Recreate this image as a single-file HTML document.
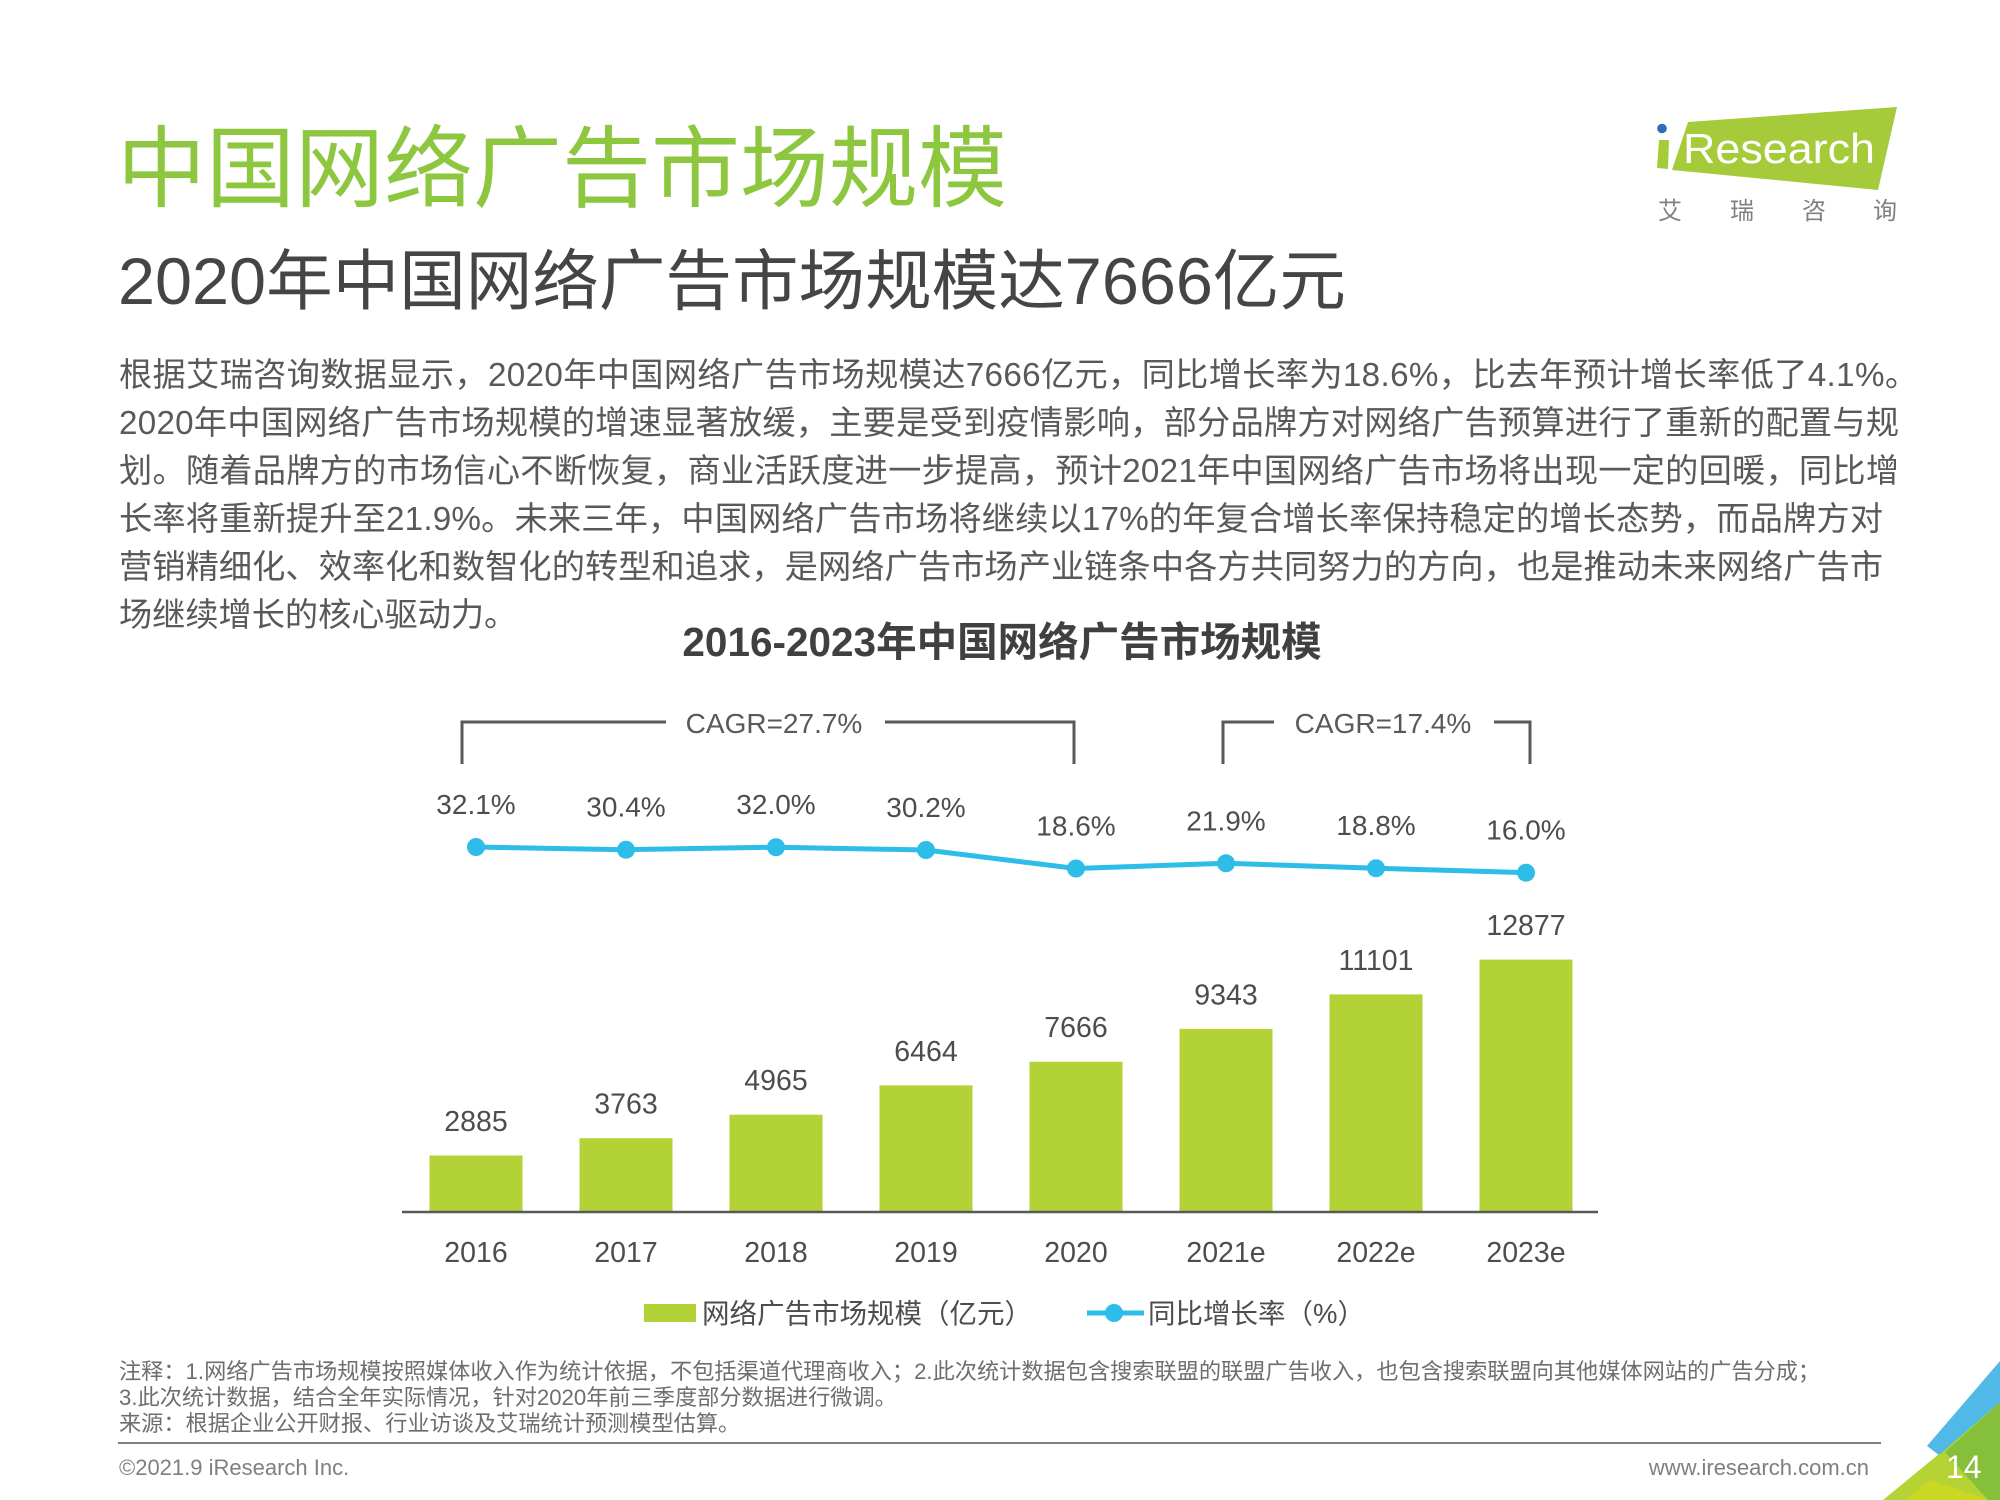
<!DOCTYPE html>
<html>
<head>
<meta charset="utf-8">
<style>
html,body{margin:0;padding:0;background:#fff;}
svg{display:block;}
text{font-family:"Liberation Sans","Noto Sans CJK SC",sans-serif;}
</style>
</head>
<body>
<svg width="2000" height="1500" viewBox="0 0 2000 1500" xmlns="http://www.w3.org/2000/svg">
<rect width="2000" height="1500" fill="#ffffff"/>

<!-- Title -->
<text x="117" y="200" font-size="89" fill="#8dc63f">中国网络广告市场规模</text>
<text x="118" y="304" font-size="66" fill="#454545" textLength="1228" lengthAdjust="spacingAndGlyphs">2020年中国网络广告市场规模达7666亿元</text>

<!-- Logo -->
<polygon points="1688,122 1897,107 1878,190 1672,170" fill="#a6cb3a"/>
<polygon points="1659,140 1669,140 1668,169 1657,168" fill="#a6cb3a"/>
<circle cx="1662" cy="128.5" r="4.8" fill="#2f6db5"/>
<text x="1683" y="163" font-size="42" fill="#ffffff" textLength="192" lengthAdjust="spacingAndGlyphs">Research</text>
<g font-size="24" fill="#808080">
<text x="1658" y="219">艾</text>
<text x="1730" y="219">瑞</text>
<text x="1802" y="219">咨</text>
<text x="1873" y="219">询</text>
</g>

<!-- Paragraph -->
<g font-size="33.2" fill="#595959">
<text x="119" y="386" textLength="1799" lengthAdjust="spacing">根据艾瑞咨询数据显示，2020年中国网络广告市场规模达7666亿元，同比增长率为18.6%，比去年预计增长率低了4.1%。</text>
<text x="119" y="434" textLength="1780" lengthAdjust="spacing">2020年中国网络广告市场规模的增速显著放缓，主要是受到疫情影响，部分品牌方对网络广告预算进行了重新的配置与规</text>
<text x="119" y="482" textLength="1780" lengthAdjust="spacing">划。随着品牌方的市场信心不断恢复，商业活跃度进一步提高，预计2021年中国网络广告市场将出现一定的回暖，同比增</text>
<text x="119" y="530" textLength="1764" lengthAdjust="spacing">长率将重新提升至21.9%。未来三年，中国网络广告市场将继续以17%的年复合增长率保持稳定的增长态势，而品牌方对</text>
<text x="119" y="578" textLength="1764" lengthAdjust="spacing">营销精细化、效率化和数智化的转型和追求，是网络广告市场产业链条中各方共同努力的方向，也是推动未来网络广告市</text>
<text x="119" y="626">场继续增长的核心驱动力。</text>
</g>

<!-- Chart title -->
<text x="1002" y="656" font-size="40.5" font-weight="bold" fill="#404040" text-anchor="middle">2016-2023年中国网络广告市场规模</text>

<!-- CAGR brackets -->
<g stroke="#595959" stroke-width="3" fill="none">
<path d="M462,764 V722 H666"/>
<path d="M885,722 H1074 V764"/>
<path d="M1223,764 V722 H1274"/>
<path d="M1494,722 H1530 V764"/>
</g>
<g font-size="28" fill="#595959" text-anchor="middle">
<text x="774" y="733">CAGR=27.7%</text>
<text x="1383" y="733">CAGR=17.4%</text>
</g>

<!-- Bars -->
<g fill="#b3d235">
<rect x="429.5" y="1155.5" width="93" height="56.5"/>
<rect x="579.5" y="1138.2" width="93" height="73.8"/>
<rect x="729.5" y="1114.7" width="93" height="97.3"/>
<rect x="879.5" y="1085.3" width="93" height="126.7"/>
<rect x="1029.5" y="1061.7" width="93" height="150.3"/>
<rect x="1179.5" y="1028.9" width="93" height="183.1"/>
<rect x="1329.5" y="994.4" width="93" height="217.6"/>
<rect x="1479.5" y="959.6" width="93" height="252.4"/>
</g>
<line x1="402" y1="1212" x2="1598" y2="1212" stroke="#595959" stroke-width="2.5"/>

<!-- Bar value labels -->
<g font-size="28.5" fill="#4d4d4d" text-anchor="middle">
<text x="476" y="1131">2885</text>
<text x="626" y="1113.7">3763</text>
<text x="776" y="1090.2">4965</text>
<text x="926" y="1060.8">6464</text>
<text x="1076" y="1037.2">7666</text>
<text x="1226" y="1004.4">9343</text>
<text x="1376" y="969.9">11101</text>
<text x="1526" y="935.1">12877</text>
</g>

<!-- Year labels -->
<g font-size="28.5" fill="#4d4d4d" text-anchor="middle">
<text x="476" y="1262">2016</text>
<text x="626" y="1262">2017</text>
<text x="776" y="1262">2018</text>
<text x="926" y="1262">2019</text>
<text x="1076" y="1262">2020</text>
<text x="1226" y="1262">2021e</text>
<text x="1376" y="1262">2022e</text>
<text x="1526" y="1262">2023e</text>
</g>

<!-- Growth line -->
<polyline points="476,847 626,849.7 776,847.2 926,850 1076,868.5 1226,863.3 1376,868.2 1526,872.7" fill="none" stroke="#2dbde8" stroke-width="5" stroke-linejoin="round"/>
<g fill="#2dbde8">
<circle cx="476" cy="847" r="9"/>
<circle cx="626" cy="849.7" r="9"/>
<circle cx="776" cy="847.2" r="9"/>
<circle cx="926" cy="850" r="9"/>
<circle cx="1076" cy="868.5" r="9"/>
<circle cx="1226" cy="863.3" r="9"/>
<circle cx="1376" cy="868.2" r="9"/>
<circle cx="1526" cy="872.7" r="9"/>
</g>
<g font-size="28" fill="#4d4d4d" text-anchor="middle">
<text x="476" y="814">32.1%</text>
<text x="626" y="816.7">30.4%</text>
<text x="776" y="814.2">32.0%</text>
<text x="926" y="817">30.2%</text>
<text x="1076" y="835.5">18.6%</text>
<text x="1226" y="830.3">21.9%</text>
<text x="1376" y="835.2">18.8%</text>
<text x="1526" y="839.7">16.0%</text>
</g>

<!-- Legend -->
<rect x="644" y="1304" width="52" height="18" fill="#b3d235"/>
<text x="702" y="1323" font-size="27.5" fill="#4d4d4d">网络广告市场规模（亿元）</text>
<line x1="1087" y1="1313" x2="1144" y2="1313" stroke="#2dbde8" stroke-width="5"/>
<circle cx="1114" cy="1313" r="9" fill="#2dbde8"/>
<text x="1148" y="1323" font-size="27.5" fill="#4d4d4d">同比增长率（%）</text>

<!-- Footnotes -->
<g font-size="22.2" fill="#6e6e6e">
<text x="119" y="1379">注释：1.网络广告市场规模按照媒体收入作为统计依据，不包括渠道代理商收入；2.此次统计数据包含搜索联盟的联盟广告收入，也包含搜索联盟向其他媒体网站的广告分成；</text>
<text x="119" y="1405">3.此次统计数据，结合全年实际情况，针对2020年前三季度部分数据进行微调。</text>
<text x="119" y="1431">来源：根据企业公开财报、行业访谈及艾瑞统计预测模型估算。</text>
</g>
<line x1="118" y1="1443" x2="1881" y2="1443" stroke="#808080" stroke-width="2"/>
<text x="119" y="1475" font-size="22" fill="#7f7f7f">©2021.9 iResearch Inc.</text>
<text x="1869" y="1475" font-size="22" fill="#7f7f7f" text-anchor="end">www.iresearch.com.cn</text>

<!-- Corner decoration -->
<polygon points="1883,1500 1939,1454 2000,1402 2000,1500" fill="#b5d334"/>
<polygon points="1905,1500 1930,1480 1990,1500" fill="#cbd823"/>
<polygon points="1945,1452 2000,1402 2000,1500 1988,1500" fill="#86c03a"/>
<polygon points="1927,1446 2000,1361 2000,1402 1939,1455" fill="#50b9e8"/>
<text x="1946" y="1478" font-size="32" fill="#ffffff">14</text>
</svg>
</body>
</html>
